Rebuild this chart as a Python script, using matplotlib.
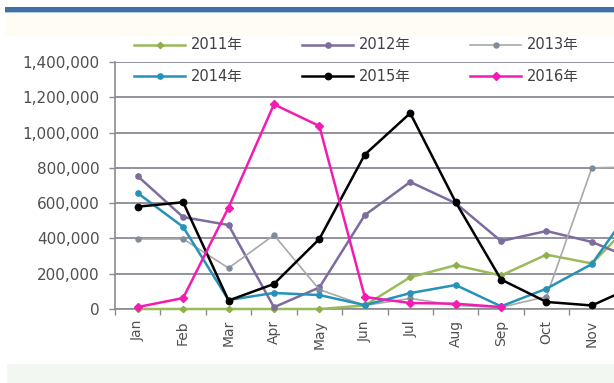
import matplotlib
matplotlib.use("Agg")
import matplotlib.pyplot as plt
from matplotlib.lines import Line2D
from matplotlib.patches import Rectangle
from matplotlib.ticker import FuncFormatter, FixedLocator

plt.rcParams['font.family'] = ['DejaVu Sans', 'Noto Sans CJK SC']

months = ['Jan', 'Feb', 'Mar', 'Apr', 'May', 'Jun',
          'Jul', 'Aug', 'Sep', 'Oct', 'Nov', 'Dec']
series_names = ['2011年', '2012年', '2013年', '2014年', '2015年', '2016年']

s2011 = [0, 0, 0, 0, 0, 20000, 180000, 248000, 190000, 308000, 258000, 520000]
s2012 = [753000, 521000, 476000, 10000, 122000, 532000, 720000, 600000,
         385000, 442000, 380000, 275000]
s2013 = [397000, 397000, 232000, 419000, 110000, 20000, 60000, 20000,
         10000, 70000, 800000, 805000]
s2014 = [657000, 465000, 51000, 91000, 79000, 22000, 90000, 136000,
         15000, 115000, 255000, 620000]
s2015 = [580000, 605000, 48000, 142000, 397000, 875000, 1110000, 606000,
         167000, 40000, 20000, 136000]
s2016 = [11000, 62000, 575000, 1160000, 1037000, 68000, 34000, 30000, 11000]

y_ticks = [0, 200000, 400000, 600000, 800000, 1000000, 1200000, 1400000]

styles = {
    '2011年': dict(color='#9bbb59', lw=1.8, marker='D', ms=3.2, mfc='#8faf4d', mec='#8faf4d'),
    '2012年': dict(color='#7d6c9e', lw=1.8, marker='o', ms=3.8, mfc='#7d6c9e', mec='#7d6c9e'),
    '2013年': dict(color='#a8a8a8', lw=1.2, marker='o', ms=3.6, mfc='#7f8c9a', mec='#7f8c9a'),
    '2014年': dict(color='#2592b8', lw=1.8, marker='o', ms=3.8, mfc='#2592b8', mec='#2592b8'),
    '2015年': dict(color='#000000', lw=1.8, marker='o', ms=4.6, mfc='#000000', mec='#000000'),
    '2016年': dict(color='#f21cb3', lw=1.8, marker='D', ms=4.2, mfc='#f21cb3', mec='#f21cb3'),
}
data = dict(zip(series_names, [s2011, s2012, s2013, s2014, s2015, s2016]))

W, H = 614, 383
fig = plt.figure(figsize=(W / 100, H / 100), dpi=100)
fig.patch.set_facecolor('white')


def px_rect(x0, y0, x1, y1, color, z=0):
    fig.patches.append(Rectangle((x0 / W, 1 - y1 / H), (x1 - x0) / W, (y1 - y0) / H,
                                 transform=fig.transFigure, facecolor=color,
                                 edgecolor='none', zorder=z))


# page header band and panel tints
px_rect(5, 13, W, 36, '#fffcf3')
px_rect(5, 7.5, W, 11.5, '#3f70a6')
px_rect(5, 11.5, W, 13, '#b2c9e2')
px_rect(7, 364, W, H, '#f2f7f1')

# plot area runs past the right edge of the figure
left, right = 115, 660
top, bottom = 62, 309
ax = fig.add_axes([left / W, 1 - bottom / H, (right - left) / W, (bottom - top) / H])
ax.set_facecolor('white')

x = list(range(len(months)))
for name in series_names:
    vals = data[name]
    ax.plot(x[:len(vals)], vals, **styles[name], zorder=3, clip_on=False)

ax.set_xlim(-0.5, 11.5)
ax.set_ylim(0, 1400000)

grid_c = '#8a8a98'
ax.yaxis.set_major_locator(FixedLocator(y_ticks))
ax.yaxis.set_major_formatter(FuncFormatter(lambda v, p: f'{int(v):,}'))
ax.grid(axis='y', color=grid_c, lw=1.3, zorder=0)
ax.set_axisbelow(True)

ax.set_xticks(x)
ax.set_xticklabels(months, rotation=90, ha='center', va='top')
ax.set_xticks([i + 0.5 for i in range(-1, 12)], minor=True)
ax.tick_params(axis='x', which='major', length=0, pad=8, labelsize=10, labelcolor='#505050')
ax.tick_params(axis='x', which='minor', length=4, width=1, color='#8c8c8c', direction='out')
ax.tick_params(axis='y', length=4, width=1, color='#8c8c8c', pad=7, labelsize=11,
               labelcolor='#505050')

# the last month falls outside the visible canvas
fig.canvas.draw()
for lbl, pos in zip(ax.get_xticklabels(), x):
    px = ax.transData.transform((pos, 0))[0]
    if px > W - 8:
        lbl.set_visible(False)

for side in ['top', 'right']:
    ax.spines[side].set_visible(False)
ax.spines['left'].set_color('#8c8c8c')
ax.spines['left'].set_linewidth(1.2)
ax.spines['bottom'].set_color('#8c8c8c')
ax.spines['bottom'].set_linewidth(1.2)

# legend: two rows of three, line sample followed by its label
leg_pos = {
    '2011年': (134, 45), '2012年': (302, 45), '2013年': (470, 45),
    '2014年': (134, 76), '2015年': (302, 76), '2016年': (470, 76),
}
for name in series_names:
    lx, ly = leg_pos[name]
    st = dict(styles[name])
    line = Line2D([lx / W, (lx + 51) / W], [1 - ly / H, 1 - ly / H],
                  transform=fig.transFigure, color=st['color'], lw=st['lw'])
    fig.lines.append(line)
    mk = Line2D([(lx + 25.5) / W], [1 - ly / H], transform=fig.transFigure,
                marker=st['marker'], ms=st['ms'], mfc=st['mfc'], mec=st['mec'],
                linestyle='none')
    fig.lines.append(mk)
    fig.text((lx + 57) / W, 1 - ly / H, name, fontsize=10.5, color='#404040',
             ha='left', va='center')

fig.savefig('out.png', dpi=100)
